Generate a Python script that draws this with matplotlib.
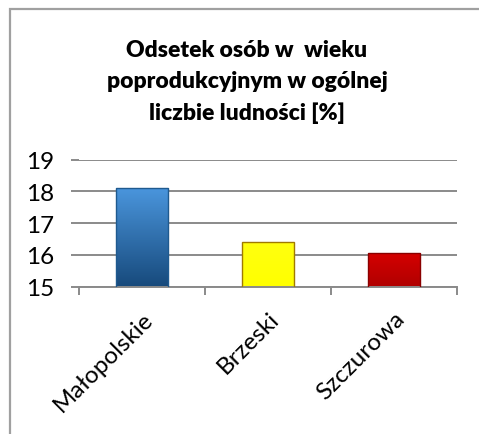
import matplotlib.pyplot as plt
import matplotlib.patches as mpatches
import numpy as np
from matplotlib.colors import LinearSegmentedColormap

plt.rcParams['font.family'] = ['Lato', 'DejaVu Sans']

# data
categories = ['Małopolskie', 'Brzeski', 'Szczurowa']
values = [18.11, 16.42, 16.07]
title = 'Odsetek osób w  wieku\npoprodukcyjnym w ogólnej\nliczbie ludności [%]'

# top colour, bottom colour, edge colour
bar_styles = [
    ('#4a95dc', '#174a7c', '#1f5a8f'),
    ('#ffff10', '#ffff00', '#a07a00'),
    ('#d40000', '#b00000', '#8a0000'),
]

fig = plt.figure(figsize=(4.79, 4.35), dpi=100)

# outer frame like the spreadsheet chart area
fig.patches.append(mpatches.Rectangle((10 / 479, -0.1), 1.2, 1 - 10 / 435 + 0.1,
                                      transform=fig.transFigure, fill=False,
                                      edgecolor='#a0a0a0', linewidth=1.6))

ax = fig.add_axes([79 / 479, 1 - 287.7 / 435, (457 - 79) / 479, (287.7 - 160.7) / 435])

x = np.arange(len(categories))
width = 0.42
bars = ax.bar(x, values, width=width, bottom=0, zorder=3)

for b, (top, bottom, edge) in zip(bars, bar_styles):
    b.set_facecolor('none')
    b.set_edgecolor(edge)
    b.set_linewidth(1.0)
    cmap = LinearSegmentedColormap.from_list('g', [bottom, top])
    x0 = b.get_x()
    x1 = x0 + b.get_width()
    y1 = b.get_height()
    grad = np.linspace(0, 1, 100).reshape(-1, 1)
    im = ax.imshow(grad, cmap=cmap, origin='lower', aspect='auto',
                   extent=[x0, x1, 15, y1], zorder=2)
    im.set_clip_path(b)
ax.set_xlim(-0.5, len(categories) - 0.5)
ax.set_ylim(15, 19)

ax.set_yticks([15, 16, 17, 18, 19])
ax.grid(axis='y', color='#8a8a8a', linewidth=1.4, zorder=0)
ax.set_axisbelow(True)
for s in ['top', 'right', 'left']:
    ax.spines[s].set_visible(False)
ax.spines['bottom'].set_color('#8a8a8a')
ax.spines['bottom'].set_linewidth(1.4)

ax.tick_params(axis='y', length=6, width=1.4, color='#8a8a8a', pad=12,
               labelsize=17.5)
ax.set_xticks(x)
ax.set_xticklabels(categories, rotation=45, ha='right', va='top',
                   rotation_mode='anchor', fontsize=17.5)
ax.set_xticks(np.arange(-0.5, len(categories)), minor=True)
ax.tick_params(axis='x', which='major', length=0, pad=15)
ax.tick_params(axis='x', which='minor', length=6, width=1.4, color='#8a8a8a')

fig.text(247 / 479, 1 - 40 / 435, title, ha='center', va='top',
         fontsize=16.5, fontweight='heavy', linespacing=1.6)

fig.savefig('out.png', dpi=100)
